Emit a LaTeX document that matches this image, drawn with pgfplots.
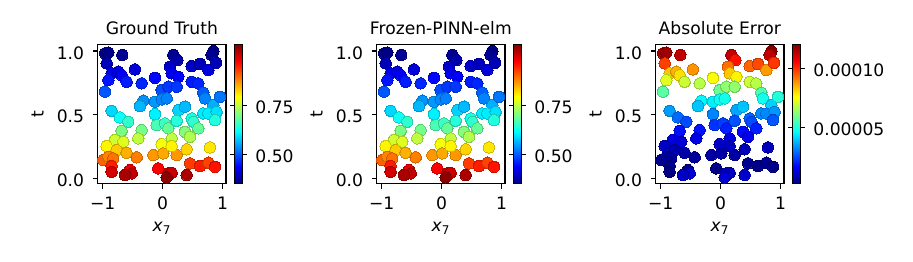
\documentclass[border=0pt]{standalone}
\usepackage{fontspec}
\setmainfont{DejaVu Sans}
\usepackage{pgfplots}
\usepackage{pgfplotstable}
\pgfplotsset{compat=1.18}

\pgfplotstableread{
x t u e
-0.962 0.982 0.3593 0.0001155
-0.906 0.987 0.3573 0.0001167
-0.673 0.969 0.3644 0.0001126
-0.934 0.903 0.3918 0.0000981
0.844 1.000 0.3522 0.0001197
0.816 0.969 0.3644 0.0001126
0.177 0.969 0.3644 0.0001126
0.244 0.929 0.3808 0.0001037
0.483 0.882 0.4010 0.0000937
0.622 0.898 0.3940 0.0000970
0.761 0.851 0.4149 0.0000874
0.888 0.908 0.3897 0.0000992
0.122 0.877 0.4032 0.0000927
-0.462 0.856 0.4126 0.0000884
-0.851 0.825 0.4269 0.0000823
-0.740 0.838 0.4209 0.0000849
-0.684 0.811 0.4336 0.0000797
-0.906 0.772 0.4526 0.0000724
-0.601 0.759 0.4591 0.0000701
-0.128 0.790 0.4437 0.0000757
-0.351 0.746 0.4657 0.0000678
0.149 0.825 0.4269 0.0000823
0.261 0.798 0.4398 0.0000772
0.483 0.759 0.4591 0.0000701
0.594 0.746 0.4657 0.0000678
0.677 0.673 0.5047 0.0000557
-0.962 0.681 0.5002 0.0000570
-0.017 0.694 0.4931 0.0000590
0.094 0.720 0.4792 0.0000634
0.233 0.720 0.4792 0.0000634
-0.323 0.610 0.5409 0.0000462
-0.378 0.568 0.5665 0.0000404
-0.128 0.602 0.5456 0.0000451
-0.017 0.620 0.5349 0.0000477
0.066 0.628 0.5303 0.0000488
0.705 0.628 0.5303 0.0000488
0.844 0.576 0.5615 0.0000415
0.955 0.641 0.5228 0.0000508
-0.851 0.531 0.5899 0.0000357
-0.712 0.479 0.6246 0.0000295
-0.573 0.445 0.6485 0.0000259
-0.128 0.505 0.6071 0.0000325
0.261 0.537 0.5860 0.0000364
0.372 0.563 0.5695 0.0000398
0.483 0.471 0.6302 0.0000287
0.677 0.510 0.6037 0.0000331
0.761 0.510 0.6037 0.0000331
0.899 0.523 0.5951 0.0000347
0.872 0.458 0.6393 0.0000272
-0.351 0.379 0.6973 0.0000195
-0.406 0.314 0.7490 0.0000142
-0.101 0.419 0.6673 0.0000232
0.038 0.432 0.6579 0.0000245
0.094 0.393 0.6866 0.0000208
0.233 0.453 0.6428 0.0000267
0.511 0.445 0.6485 0.0000259
0.594 0.393 0.6866 0.0000208
0.372 0.366 0.7074 0.0000184
0.455 0.327 0.7384 0.0000152
0.149 0.314 0.7490 0.0000142
-0.684 0.374 0.7011 0.0000191
-0.795 0.301 0.7598 0.0000133
-0.656 0.288 0.7708 0.0000124
-0.934 0.254 0.8002 0.0000102
-0.767 0.222 0.8287 0.0000085
-0.601 0.201 0.8481 0.0000074
-0.434 0.165 0.8824 0.0000059
-0.156 0.183 0.8651 0.0000066
-0.017 0.269 0.7871 0.0000112
0.011 0.196 0.8529 0.0000072
0.233 0.183 0.8651 0.0000066
0.399 0.228 0.8233 0.0000088
0.788 0.243 0.8098 0.0000096
-0.990 0.144 0.9030 0.0000051
-0.906 0.170 0.8775 0.0000061
-0.823 0.157 0.8902 0.0000056
-0.851 0.097 0.9509 0.0000038
-0.851 0.052 0.9992 0.0000030
-0.545 0.065 0.9850 0.0000032
-0.517 0.039 1.0136 0.0000120
-0.628 0.026 1.0282 0.0000110
-0.073 0.078 0.9710 0.0000034
0.094 0.039 1.0136 0.0000130
0.149 0.044 1.0081 0.0000100
0.066 0.008 1.0487 0.0000125
0.399 0.026 1.0282 0.0000115
0.455 0.118 0.9292 0.0000043
0.622 0.097 0.9509 0.0000038
0.761 0.123 0.9242 0.0000045
0.872 0.091 0.9572 0.0000037
0.149 0.254 0.8002 0.0000102
}\pts

\pgfplotsset{
  myax/.style={
    scale only axis, width=92.38bp, height=100.37bp,
    xmin=-1.083, xmax=1.055, ymin=-0.042, ymax=1.053,
    axis line style={line width=0.8bp},
    every tick/.style={black, line width=0.8bp},
    tick align=outside, major tick length=3.5bp,
    xtick pos=bottom, ytick pos=left,
    xtick={-1,0,1}, xticklabels={−1,0,1},
    ytick={0,0.5,1}, yticklabels={0.0,0.5,1.0},
    tick label style={font=\fontsize{12.4}{14.9}\selectfont},
    xticklabel style={anchor=base, inner sep=0pt, yshift=-15.1bp},
    yticklabel style={anchor=east, inner sep=0pt, xshift=-6.1bp, yshift=-1.4bp},
    xlabel={\textit{x}\textsubscript{7}}, ylabel={t},
    xlabel style={at={(axis description cs:0.5,0)}, anchor=base, yshift=-34.7bp, inner sep=0pt, font=\fontsize{12.4}{14.9}\selectfont},
    ylabel style={at={(axis description cs:-0.469,0.5)}, anchor=center, inner sep=0pt, font=\fontsize{12.4}{14.9}\selectfont},
    every axis title shift=0pt,
    title style={at={(axis description cs:0.5,1)}, anchor=base, yshift=7.2bp, inner sep=0pt, font=\fontsize{12.4}{14.9}\selectfont},
    colormap/jet, colorbar,
  },
  mycb/.style={
    at={(parent axis.north east)}, anchor=north west, xshift=-2.16bp,
    scale only axis, width=5.26bp, height=100.37bp,
    axis line style={line width=0.8bp},
    every tick/.style={black, line width=0.8bp},
    tick align=outside, major tick length=3.5bp,
    scaled y ticks=false,
    yticklabel style={anchor=west, inner sep=0pt, xshift=5.9bp, yshift=-1.4bp, font=\fontsize{12.4}{14.9}\selectfont},
  },
  myplot/.style={scatter, only marks, mark=*, mark size=4.1bp, mark options={line width=0pt}, scatter src=explicit}
}

\begin{document}
\begin{tikzpicture}
\path[use as bounding box] (0,0) rectangle (657.36bp,187.92bp);

\begin{axis}[myax, at={(70.34bp,55.66bp)}, anchor=south west,
  title={Ground Truth},
  point meta min=0.352, point meta max=1.058,
  colorbar style={mycb, ytick={0.5,0.75}, yticklabels={0.50,0.75}}]
\addplot[myplot] table[x=x, y=t, meta=u] {\pts};
\end{axis}

\begin{axis}[myax, at={(271.22bp,55.66bp)}, anchor=south west,
  title={Frozen-PINN-elm},
  point meta min=0.352, point meta max=1.058,
  colorbar style={mycb, ytick={0.5,0.75}, yticklabels={0.50,0.75}}]
\addplot[myplot] table[x=x, y=t, meta=u] {\pts};
\end{axis}

\begin{axis}[myax, at={(472.10bp,55.66bp)}, anchor=south west,
  title={Absolute Error},
  point meta min=0.0000027, point meta max=0.00012,
  colorbar style={mycb, ytick={0.00005,0.0001}, yticklabels={0.00005,0.00010}}]
\addplot[myplot] table[x=x, y=t, meta=e] {\pts};
\end{axis}
\end{tikzpicture}
\end{document}
